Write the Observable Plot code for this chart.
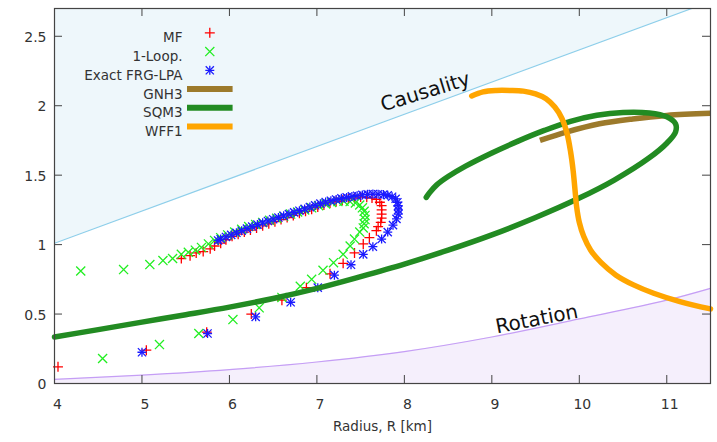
<!DOCTYPE html>
<html><head><meta charset="utf-8">
<script src="https://cdn.jsdelivr.net/npm/d3@7"></script>
<script src="https://cdn.jsdelivr.net/npm/@observablehq/plot@0.6"></script>
<style>body{margin:0;background:#fff} svg{display:block}</style>
</head><body><div id="chart"></div>
<script>
// ---- data (Radius km, Mass) ----
const xTicks = [4, 5, 6, 7, 8, 9, 10, 11];
const yTicks = [0, 0.5, 1, 1.5, 2, 2.5];
const legendNames = ["MF", "1-Loop.", "Exact FRG-LPA", "GNH3", "SQM3", "WFF1"];
const xLabel = "Radius, R [km]";
const causalityLabel = "Causality";
const rotationLabel = "Rotation";

const causality = [[4, 1.01], [11.5, 2.75]];
const rotation = [[4, 0.03], [5, 0.06], [6, 0.10], [7, 0.155], [8, 0.23], [9, 0.335], [10, 0.465], [11, 0.60], [11.5, 0.685]];

const mf = [[4.04,0.12],[5.05,0.24],[5.74,0.37],[6.25,0.50],[6.60,0.60],[6.88,0.69],[7.15,0.79],[7.30,0.865],[7.43,0.94],[7.53,1.005],[7.60,1.05],[7.68,1.10],[7.70,1.13],[7.73,1.16],[7.74,1.19],[7.74,1.22],[7.74,1.25],[7.74,1.28],[7.72,1.305],[7.68,1.325],[7.63,1.335],[7.57,1.34],[7.50,1.343],
  [7.43,1.335],[7.36,1.33],[7.29,1.32],[7.22,1.31],[7.15,1.30],[7.08,1.285],[7.01,1.27],[6.94,1.255],[6.87,1.24],[6.80,1.225],[6.73,1.21],[6.66,1.195],[6.59,1.18],[6.52,1.165],[6.45,1.15],[6.38,1.135],[6.31,1.12],[6.24,1.105],[6.17,1.09],[6.10,1.075],[6.03,1.06],[5.96,1.035],[5.90,1.01],[5.83,0.99],[5.78,0.97],[5.70,0.95],[5.62,0.94],[5.55,0.92],[5.45,0.90]];

const oneLoop = [[4.55,0.18],[5.20,0.28],[5.65,0.36],[6.04,0.46],[6.34,0.545],[6.60,0.62],[6.81,0.70],[6.94,0.75],[7.07,0.815],[7.19,0.87],[7.30,0.93],[7.38,0.99],[7.43,1.04],[7.49,1.09],[7.53,1.12],[7.54,1.15],[7.55,1.18],[7.55,1.21],[7.54,1.24],[7.52,1.265],[7.49,1.285],[7.44,1.30],
  [7.38,1.31],[7.31,1.312],[7.24,1.31],[7.17,1.303],[7.10,1.293],[7.02,1.28],[6.94,1.265],[6.86,1.25],[6.78,1.235],[6.70,1.22],[6.62,1.205],[6.54,1.19],[6.46,1.175],[6.38,1.16],[6.30,1.145],[6.22,1.13],[6.14,1.11],[6.06,1.09],[5.98,1.07],[5.90,1.05],[5.83,1.03],[5.76,1.005],[5.68,0.98],[5.61,0.96],[5.53,0.945],[5.45,0.93],[5.35,0.90],[5.24,0.885],[5.09,0.856],[4.79,0.82],[4.30,0.81]];

const exactFRG = [[5.00,0.225],[5.75,0.36],[6.30,0.48],[6.70,0.585],[7.01,0.69],[7.20,0.78],[7.39,0.855],[7.53,0.93],[7.64,0.985],[7.74,1.04],[7.81,1.09],[7.87,1.14],[7.91,1.185],[7.93,1.22],[7.93,1.25],[7.93,1.28],[7.92,1.305],[7.90,1.33],[7.86,1.345],[7.81,1.355],[7.76,1.36],[7.70,1.363],[7.64,1.364],[7.58,1.362],[7.52,1.358],[7.46,1.352],[7.40,1.347],[7.34,1.34],[7.28,1.333],[7.22,1.325],[7.16,1.316],[7.10,1.306],[7.04,1.295],[6.98,1.283],[6.92,1.27],[6.86,1.257],[6.80,1.244],[6.74,1.232],[6.68,1.22],[6.62,1.207],[6.56,1.195],[6.50,1.183],[6.44,1.17],[6.38,1.157],[6.32,1.144],[6.26,1.13],[6.20,1.115],[6.14,1.10],[6.08,1.085],[6.02,1.07],[5.96,1.055],[5.90,1.04],[5.87,1.03]];

const gnh3 = [[9.55,1.75],[9.85,1.81],[10.23,1.87],[10.61,1.905],[11.0,1.93],[11.5,1.945]];
const sqm3 = [[4.0,0.335],[4.5,0.388],[5.0,0.442],[5.5,0.495],[6.0,0.55],[6.5,0.612],[7.0,0.685],[7.5,0.77],[8.0,0.86],[8.5,0.96],[9.0,1.07],[9.5,1.195],[10.0,1.335],[10.4,1.465],[10.8,1.625],[11.0,1.73],[11.1,1.81],[11.1,1.87],[11.0,1.92],[10.8,1.948],[10.5,1.952],[10.2,1.932],[9.9,1.888],[9.6,1.822],[9.3,1.745],[9.0,1.66],[8.7,1.565],[8.5,1.49],[8.37,1.43],[8.29,1.375],[8.25,1.34]];
const wff1 = [[8.77,2.07],[8.90,2.10],[9.05,2.11],[9.21,2.11],[9.36,2.105],[9.50,2.085],[9.62,2.05],[9.72,1.99],[9.80,1.91],[9.86,1.80],[9.90,1.67],[9.93,1.53],[9.95,1.40],[9.97,1.27],[10.00,1.16],[10.05,1.06],[10.13,0.96],[10.25,0.87],[10.42,0.78],[10.62,0.71],[10.85,0.65],[11.15,0.59],[11.5,0.537]];

// ---- styling ----
const F = "DejaVu Sans, sans-serif";
const C = {mf: "#ff0000", loop: "#22ee22", exact: "#1a1aff", gnh3: "#9c7a2b", sqm3: "#228b22", wff1: "#ffa500",
  caus: "#8fcfea", causFill: "#eef7fb", rot: "#c59ef5", rotFill: "#f5effc", frame: "#444"};
const toObj = arr => arr.map(([R, M]) => ({R, M}));
const yMax = 2.7;

const S = {mf: 3.3, loop: 4.2, exactPlus: 3.0, exactTimes: 3.8};
const lineSym = {draw(ctx) { ctx.moveTo(-22.8, 0); ctx.lineTo(22.8, 0); }};
const rowDy = i => 24.3 + i * 18.75;
const legendSym = [
  [{symbol: "plus", r: S.mf, stroke: C.mf}],
  [{symbol: "times", r: S.loop, stroke: C.loop}],
  [{symbol: "plus", r: S.exactPlus, stroke: C.exact}, {symbol: "times", r: S.exactTimes, stroke: C.exact}],
  [{symbol: lineSym, r: 3, stroke: C.gnh3, sw: 6}],
  [{symbol: lineSym, r: 3, stroke: C.sqm3, sw: 6}],
  [{symbol: lineSym, r: 3, stroke: C.wff1, sw: 6}]
];
const legendMarks = [];
legendNames.forEach((name, i) => {
  legendMarks.push(Plot.text([name], {text: d => d, frameAnchor: "top-left", dx: 128, dy: rowDy(i), textAnchor: "end", fontSize: 13.5, fontFamily: F, fill: "#333"}));
  legendSym[i].forEach(s => legendMarks.push(Plot.dot([0], {frameAnchor: "top-left", dx: 155.3, dy: rowDy(i), symbol: s.symbol, r: s.r, fill: "none", stroke: s.stroke, strokeWidth: s.sw || 1.3, strokeLinecap: "butt"})));
});

const chart = Plot.plot({
  width: 717, height: 442,
  marginLeft: 54, marginRight: 7, marginTop: 8, marginBottom: 59,
  x: {domain: [4, 11.5]},
  y: {domain: [0, yMax]},
  style: {fontFamily: F, fontSize: "14px", color: "#333", background: "#fff"},
  marks: [
    Plot.areaY(toObj(causality), {x: "R", y1: "M", y2: () => yMax, fill: C.causFill, clip: true}),
    Plot.areaY(toObj(rotation), {x: "R", y: "M", fill: C.rotFill, curve: "catmull-rom"}),
    Plot.line(toObj(causality), {x: "R", y: "M", stroke: C.caus, strokeWidth: 1.2, clip: true}),
    Plot.line(toObj(rotation), {x: "R", y: "M", stroke: C.rot, strokeWidth: 1.2, curve: "catmull-rom"}),
    Plot.dot(toObj(mf), {x: "R", y: "M", symbol: "plus", r: S.mf, stroke: C.mf, strokeWidth: 1.3}),
    Plot.dot(toObj(oneLoop), {x: "R", y: "M", symbol: "times", r: S.loop, stroke: C.loop, strokeWidth: 1.3}),
    Plot.dot(toObj(exactFRG), {x: "R", y: "M", symbol: "plus", r: S.exactPlus, stroke: C.exact, strokeWidth: 1.3}),
    Plot.dot(toObj(exactFRG), {x: "R", y: "M", symbol: "times", r: S.exactTimes, stroke: C.exact, strokeWidth: 1.3}),
    Plot.line(toObj(gnh3), {x: "R", y: "M", stroke: C.gnh3, strokeWidth: 5.5, curve: "catmull-rom", strokeLinecap: "butt"}),
    Plot.line(toObj(sqm3), {x: "R", y: "M", stroke: C.sqm3, strokeWidth: 5.5, curve: "catmull-rom"}),
    Plot.line(toObj(wff1), {x: "R", y: "M", stroke: C.wff1, strokeWidth: 5.5, curve: "catmull-rom"}),
    Plot.text([causalityLabel], {text: d => d, x: 8.24, y: 2.10, rotate: -17, fontSize: 20, fontFamily: F, fill: "#111"}),
    Plot.text([rotationLabel], {text: d => d, x: 9.514, y: 0.463, rotate: -11, fontSize: 20, fontFamily: F, fill: "#111"}),
    ...legendMarks,
    Plot.tickX(xTicks, {x: d => d, insetTop: 367, stroke: C.frame}),
    Plot.tickX(xTicks, {x: d => d, insetBottom: 367, stroke: C.frame}),
    Plot.tickY(yTicks, {y: d => d, insetRight: 648, stroke: C.frame}),
    Plot.tickY(yTicks, {y: d => d, insetLeft: 648, stroke: C.frame}),
    Plot.axisX({ticks: xTicks, tickSize: 0, tickPadding: 16, dx: 3, label: null, tickFormat: d => String(d)}),
    Plot.axisY({ticks: yTicks, tickSize: 0, tickPadding: 8, dy: 1, label: null, tickFormat: d => String(d)}),
    Plot.text([xLabel], {text: d => d, frameAnchor: "bottom", dy: 47, fontSize: 13.5, fontFamily: F, fill: "#333"}),
    Plot.frame({stroke: C.frame, strokeWidth: 1.2})
  ]
});
document.getElementById("chart").appendChild(chart);
</script></body></html>
